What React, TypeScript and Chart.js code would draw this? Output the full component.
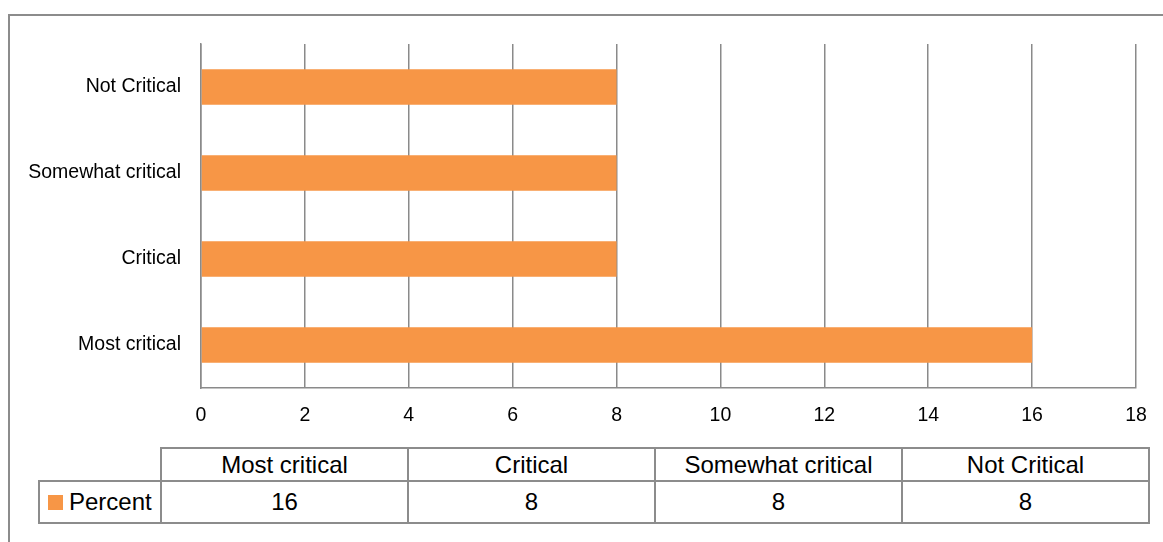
import React, { useEffect, useRef } from "react";
import Chart from "chart.js/auto";

const categories = ["Most critical", "Critical", "Somewhat critical", "Not Critical"];
const percentValues = [16, 8, 8, 8];
const seriesName = "Percent";
const xMin = 0;
const xMax = 18;
const xStep = 2;

const ORANGE = "#F79646";
const GRID = "#8a8a8a";
const FONT = "'Liberation Sans', Arial, sans-serif";

export default function App() {
  const ref = useRef<HTMLCanvasElement>(null);

  useEffect(() => {
    const chart = new Chart(ref.current as HTMLCanvasElement, {
      type: "bar",
      data: {
        labels: categories,
        datasets: [
          {
            label: seriesName,
            data: percentValues,
            backgroundColor: ORANGE,
            borderWidth: 0,
            barPercentage: 0.41,
            categoryPercentage: 1,
          },
        ],
      },
      options: {
        indexAxis: "y",
        animation: false,
        responsive: false,
        maintainAspectRatio: false,
        layout: { padding: { left: 0, top: 44, right: 27, bottom: 0 } },
        plugins: { legend: { display: false }, tooltip: { enabled: false } },
        scales: {
          x: {
            min: xMin,
            max: xMax,
            ticks: { stepSize: xStep, padding: 16, color: "#000", font: { family: FONT, size: 19.5 } },
            grid: { color: GRID, lineWidth: 1.5, drawTicks: false },
            border: { display: true, color: GRID, width: 1.5 },
            afterFit: (s: any) => {
              s.height = 52;
            },
          },
          y: {
            reverse: true,
            ticks: { padding: 20, color: "#000", font: { family: FONT, size: 19.5 } },
            grid: { display: false, drawTicks: false },
            border: { display: true, color: GRID, width: 1.5 },
            afterFit: (s: any) => {
              s.width = 201;
            },
          },
        },
      },
    } as any);
    return () => chart.destroy();
  }, []);

  const cell: React.CSSProperties = {
    border: "2px solid #8c8c8c",
    padding: 0,
    textAlign: "center",
    verticalAlign: "middle",
    whiteSpace: "nowrap",
    lineHeight: 1,
  };

  return (
    <div
      style={{
        position: "fixed",
        left: 0,
        top: 0,
        width: 1163,
        height: 542,
        overflow: "hidden",
        background: "#fff",
      }}
    >
      <div
        style={{
          position: "absolute",
          left: 8,
          top: 14,
          width: 1200,
          height: 600,
          border: "2px solid #8c8c8c",
          boxSizing: "border-box",
        }}
      />
      <canvas
        ref={ref}
        width={1163}
        height={440}
        style={{ position: "absolute", left: 0, top: 0, display: "block" }}
      />
      <table
        style={{
          position: "absolute",
          left: 38,
          top: 447,
          borderCollapse: "collapse",
          tableLayout: "fixed",
          width: 1110,
          fontFamily: FONT,
          fontSize: 24,
          color: "#000",
        }}
      >
        <colgroup>
          <col style={{ width: 122 }} />
          {categories.map((c) => (
            <col key={c} style={{ width: 247 }} />
          ))}
        </colgroup>
        <tbody>
          <tr style={{ height: 33 }}>
            <td style={{ border: "none", padding: 0 }} />
            {categories.map((c) => (
              <td key={c} style={cell}>
                {c}
              </td>
            ))}
          </tr>
          <tr style={{ height: 42 }}>
            <td style={{ ...cell, textAlign: "left" }}>
              <div style={{ display: "flex", alignItems: "center", paddingLeft: 8 }}>
                <span
                  style={{
                    display: "inline-block",
                    width: 15,
                    height: 15,
                    background: ORANGE,
                    marginRight: 6,
                  }}
                />
                <span>{seriesName}</span>
              </div>
            </td>
            {percentValues.map((v, i) => (
              <td key={i} style={cell}>
                {v}
              </td>
            ))}
          </tr>
        </tbody>
      </table>
    </div>
  );
}
